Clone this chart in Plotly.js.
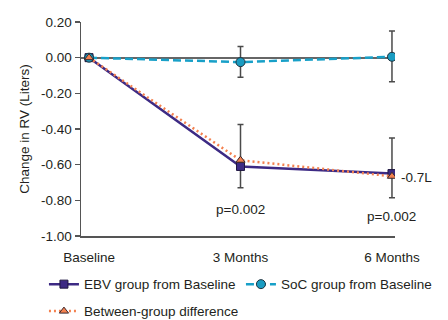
<!DOCTYPE html>
<html>
<head>
<meta charset="utf-8">
<script src="https://cdn.plot.ly/plotly-3.0.1.min.js"></script>
<style>html,body{margin:0;padding:0;background:#fff;}#chart{width:448px;height:320px;}</style>
</head>
<body>
<div id="chart"></div>
<script>
const categories = ["Baseline", "3 Months", "6 Months"];
const ebvValues = [0, -0.61, -0.65];
const ebvErrPlus = [0, 0.235, 0.20];
const ebvErrMinus = [0, 0.12, 0.135];
const socValues = [0, -0.025, 0.005];
const socErrPlus = [0, 0.087, 0.145];
const socErrMinus = [0, 0.085, 0.14];
const diffValues = [0, -0.575, -0.665];
const yTickVals = [0.2, 0, -0.2, -0.4, -0.6, -0.8, -1.0];
const yTickText = ["0.20", "0.00", "-0.20", "-0.40", "-0.60", "-0.80", "-1.00"];
const pLabels = ["p=0.002", "p=0.002"];
const endLabel = "-0.7L";

const FONT = '"Liberation Sans", Arial, sans-serif';
const FS = 13.5;
const TXT = "#231f20";
const idx = [0, 1, 2];

const traces = [
  {
    x: idx, y: ebvValues, name: "EBV group from Baseline", type: "scatter", mode: "lines+markers",
    legend: "legend",
    line: {color: "#3d2a84", width: 2.5},
    marker: {symbol: "square", size: 8, color: "#3d2a84", line: {color: "#1e1640", width: 1}},
    error_y: {type: "data", symmetric: false, array: ebvErrPlus, arrayminus: ebvErrMinus,
      color: "#4a4a4a", thickness: 1.5, width: 3}
  },
  {
    x: idx, y: socValues, name: "SoC group from Baseline", type: "scatter", mode: "lines+markers",
    legend: "legend",
    line: {color: "#18a0c8", width: 2.5, dash: "8px,4px"},
    marker: {symbol: "circle", size: 9, color: "#1a9cc2", line: {color: "#1c3340", width: 1}},
    error_y: {type: "data", symmetric: false, array: socErrPlus, arrayminus: socErrMinus,
      color: "#4a4a4a", thickness: 1.5, width: 3}
  },
  {
    x: idx, y: diffValues, name: "Between-group difference", type: "scatter", mode: "lines+markers",
    legend: "legend2",
    line: {color: "#f4814f", width: 2.5, dash: "2px,3px"},
    marker: {symbol: "triangle-up", size: 8, color: "#f4814f", line: {color: "#3a2a30", width: 1}}
  }
];

const annotations = [
  {x: 1, y: -0.852, xref: "x", yref: "y", text: pLabels[0], showarrow: false,
   font: {family: FONT, size: FS, color: TXT}},
  {x: 2, y: -0.891, xref: "x", yref: "y", text: pLabels[1], showarrow: false,
   font: {family: FONT, size: FS, color: TXT}},
  {x: 2, y: -0.673, xref: "x", yref: "y", text: endLabel, showarrow: false, xanchor: "left", xshift: 7,
   font: {family: FONT, size: FS, color: TXT}}
];

const legendFont = {family: FONT, size: FS, color: TXT};

const layout = {
  width: 448, height: 320,
  margin: {l: 81, r: 53, t: 22, b: 83.5, autoexpand: false},
  paper_bgcolor: "#fff", plot_bgcolor: "#fff",
  font: {family: FONT, size: FS, color: TXT},
  showlegend: true,
  legend: {orientation: "h", x: -0.118, xanchor: "left", y: -0.226, yanchor: "middle",
    entrywidth: 152, entrywidthmode: "pixels", traceorder: "normal",
    font: legendFont, bgcolor: "rgba(0,0,0,0)"},
  legend2: {orientation: "h", x: -0.118, xanchor: "left", y: -0.352, yanchor: "middle",
    font: legendFont, bgcolor: "rgba(0,0,0,0)"},
  xaxis: {
    range: [-0.053, 2.02], tickvals: idx, ticktext: categories,
    showgrid: false, zeroline: false, showline: true, linecolor: "#555", linewidth: 1.5,
    ticks: "", ticklabelstandoff: 8, fixedrange: true
  },
  yaxis: {
    range: [-1.0, 0.2], tickvals: yTickVals, ticktext: yTickText,
    showgrid: false, zeroline: true, zerolinecolor: "#666", zerolinewidth: 2,
    showline: true, linecolor: "#555", linewidth: 1.5,
    ticks: "outside", ticklen: 5, tickwidth: 1.5, tickcolor: "#555",
    title: {text: "Change in RV (Liters)", font: {family: FONT, size: FS, color: TXT}, standoff: 8},
    fixedrange: true
  },
  annotations: annotations
};

Plotly.newPlot("chart", traces, layout, {displayModeBar: false, staticPlot: true});
</script>
</body>
</html>
